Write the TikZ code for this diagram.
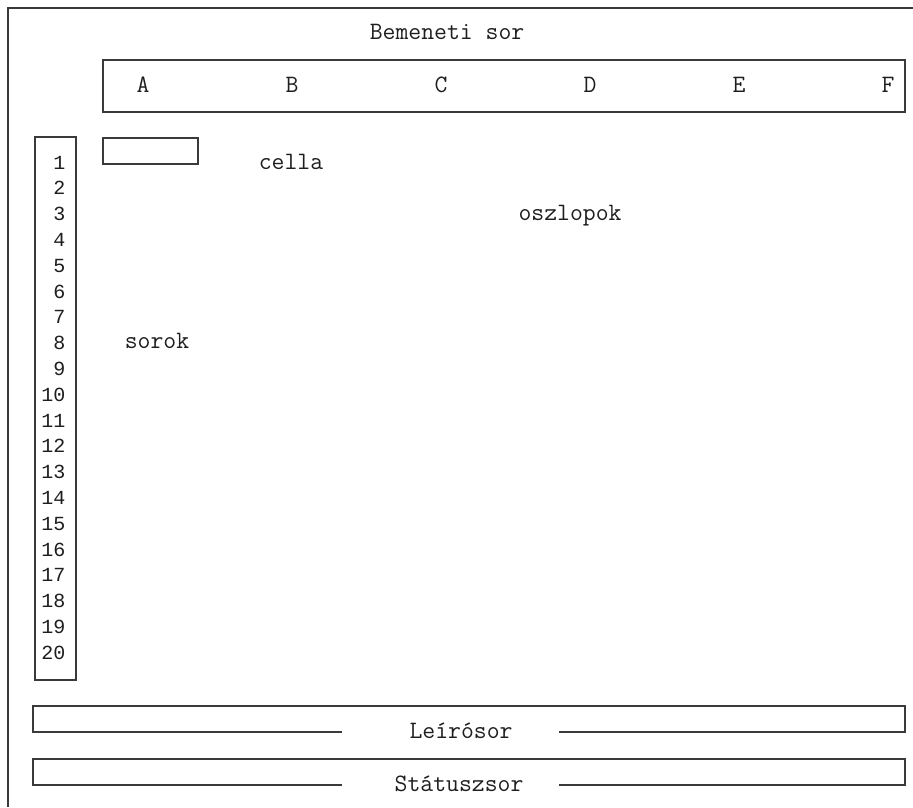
\documentclass[tikz,border=0pt]{standalone}
\usepackage{fontspec}
\newfontfamily\numfont{Liberation Mono}
\usetikzlibrary{positioning}
\definecolor{cline}{HTML}{3A3A3A}
\definecolor{ctext}{HTML}{1E1E1E}
\tikzset{
  every picture/.style={x=1pt, y=-1pt, line width=1.3pt},
  frame/.style={draw=cline},
  lbl/.style={font=\ttfamily\fontsize{25}{25}\selectfont, text=ctext, anchor=base, inner sep=0pt},
  rownum/.style={font=\numfont\fontsize{20}{20}\selectfont, text=ctext, anchor=base east, inner sep=0pt},
}
\begin{document}
\begin{tikzpicture}
  \useasboundingbox (0,0) rectangle (913,807);
  % outer frame (open to the right and bottom)
  \draw[frame] (913,8) -- (8,8) -- (8,807);
  % input line and column header
  \node[lbl] (input) at (447,39) {Bemeneti sor};
  \draw[frame] (103,60) rectangle (905,112);
  \foreach \c [count=\i from 0] in {A,B,C,D,E,F}
    \node[lbl] (col\c) at ({143+149*\i},92) {\c};
  % row header
  \draw[frame] (35,137) rectangle (76,680);
  \foreach \r in {1,...,20}
    \node[rownum] (row\r) at (66,{169+25.8*(\r-1)}) {\r};
  % cell
  \draw[frame] (103,138) rectangle (198,164);
  \node[lbl] (cella) at (291,169) {cella};
  \node[lbl] (cols) at (570,220) {oszlopok};
  \node[lbl] (rows) at (157,348) {sorok};
  % description and status lines
  \node[lbl] (desc) at (461,738) {Leírósor};
  \draw[frame] (342,732) -- (33,732) -- (33,706) -- (905,706) -- (905,732) -- (559,732);
  \node[lbl] (status) at (459,791) {Státuszsor};
  \draw[frame] (342,785) -- (33,785) -- (33,759) -- (905,759) -- (905,785) -- (559,785);
\end{tikzpicture}
\end{document}
